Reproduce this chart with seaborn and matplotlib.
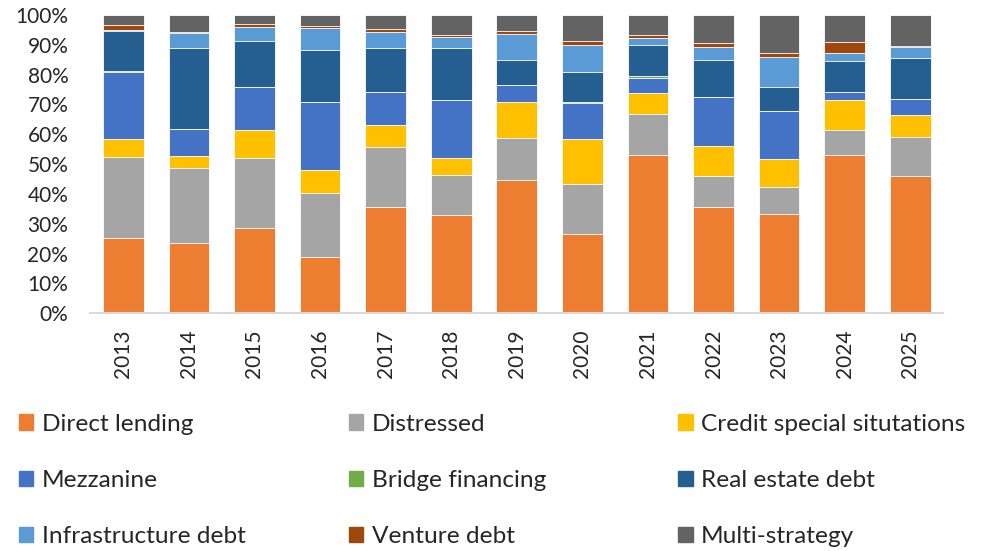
import matplotlib
matplotlib.use("Agg")
import matplotlib.pyplot as plt
import matplotlib.patches as mpatches
from matplotlib.ticker import PercentFormatter
import numpy as np
import pandas as pd
import seaborn as sns

years = [str(y) for y in range(2013, 2026)]

direct_lending = [25.1, 23.5, 28.7, 19.0, 35.8, 32.8, 44.6, 26.7, 53.0, 35.5, 33.4, 53.0, 45.9]
distressed = [27.4, 25.1, 23.5, 21.4, 19.8, 13.6, 14.1, 16.7, 13.9, 10.6, 8.9, 8.6, 13.3]
credit_special = [5.9, 4.2, 9.3, 7.5, 7.6, 5.8, 12.0, 14.9, 7.0, 10.0, 9.5, 9.9, 7.4]
mezzanine = [22.6, 8.9, 14.3, 22.8, 10.9, 19.2, 5.7, 12.1, 5.1, 16.3, 16.1, 2.6, 5.1]
bridge = [0.2, 0.0, 0.2, 0.0, 0.2, 0.2, 0.0, 0.4, 0.4, 0.0, 0.0, 0.0, 0.0]
real_estate = [13.5, 27.1, 15.4, 17.5, 14.8, 17.2, 8.6, 10.0, 10.4, 12.5, 8.1, 10.6, 13.9]
infrastructure = [0.2, 5.2, 4.6, 7.3, 5.3, 3.9, 8.7, 9.1, 2.6, 4.4, 10.0, 2.7, 3.6]
venture = [1.6, 0.2, 1.1, 0.8, 1.0, 0.6, 1.0, 1.3, 0.9, 1.4, 1.4, 3.7, 0.3]
multi_strategy = [3.5, 5.8, 2.9, 3.7, 4.6, 6.7, 5.3, 8.8, 6.7, 9.3, 12.6, 8.9, 10.5]

labels = ["Direct lending", "Distressed", "Credit special situtations",
          "Mezzanine", "Bridge financing", "Real estate debt",
          "Infrastructure debt", "Venture debt", "Multi-strategy"]
colors = ["#ED7D31", "#A5A5A5", "#FFC000",
          "#4472C4", "#70AD47", "#255E91",
          "#5B9BD5", "#9E480E", "#636363"]

df = pd.DataFrame(
    [direct_lending, distressed, credit_special, mezzanine, bridge,
     real_estate, infrastructure, venture, multi_strategy],
    index=labels, columns=years,
)
shares = df / df.sum(0)
cumulative = shares.cumsum(0)

sns.set_theme(style="white")
plt.rcParams["font.family"] = ["Lato", "DejaVu Sans"]

fig = plt.figure(figsize=(9.91, 5.51), dpi=100)
ax = fig.add_axes([0.0913, 0.4314, 0.8603, 0.5414])

# draw cumulative totals from the top down so each layer shows its own slice
for label, color in reversed(list(zip(labels, colors))):
    sns.barplot(x=years, y=cumulative.loc[label].values, color=color,
                width=0.62, edgecolor="white", linewidth=0.6,
                saturation=1, ax=ax)

ax.set_xlim(-0.5, 12.5)
ax.set_ylim(0, 1)
ax.set_yticks(np.arange(0, 1.01, 0.1))
ax.yaxis.set_major_formatter(PercentFormatter(1.0, decimals=0))
ax.tick_params(axis="y", length=0, pad=16, labelsize=15, colors="#262626")
ax.tick_params(axis="x", length=0, pad=12, labelsize=15, rotation=90, colors="#262626")
ax.set_xlabel("")
ax.set_ylabel("")
for side in ["top", "right", "left"]:
    ax.spines[side].set_visible(False)
ax.spines["bottom"].set_color("#D9D9D9")
ax.spines["bottom"].set_linewidth(1.5)

handles = [mpatches.Patch(color=c, label=l) for l, c in zip(labels, colors)]
col_x = [0.019, 0.352, 0.684]
for i, x in enumerate(col_x):
    fig.legend(handles=handles[i::3], loc="upper left", bbox_to_anchor=(x, 0.249),
               frameon=False, fontsize=17.6, handlelength=0.6, handleheight=0.6,
               handletextpad=0.35, labelspacing=1.44, borderpad=0, borderaxespad=0,
               labelcolor="#262626")

fig.savefig("out.png", dpi=100)
